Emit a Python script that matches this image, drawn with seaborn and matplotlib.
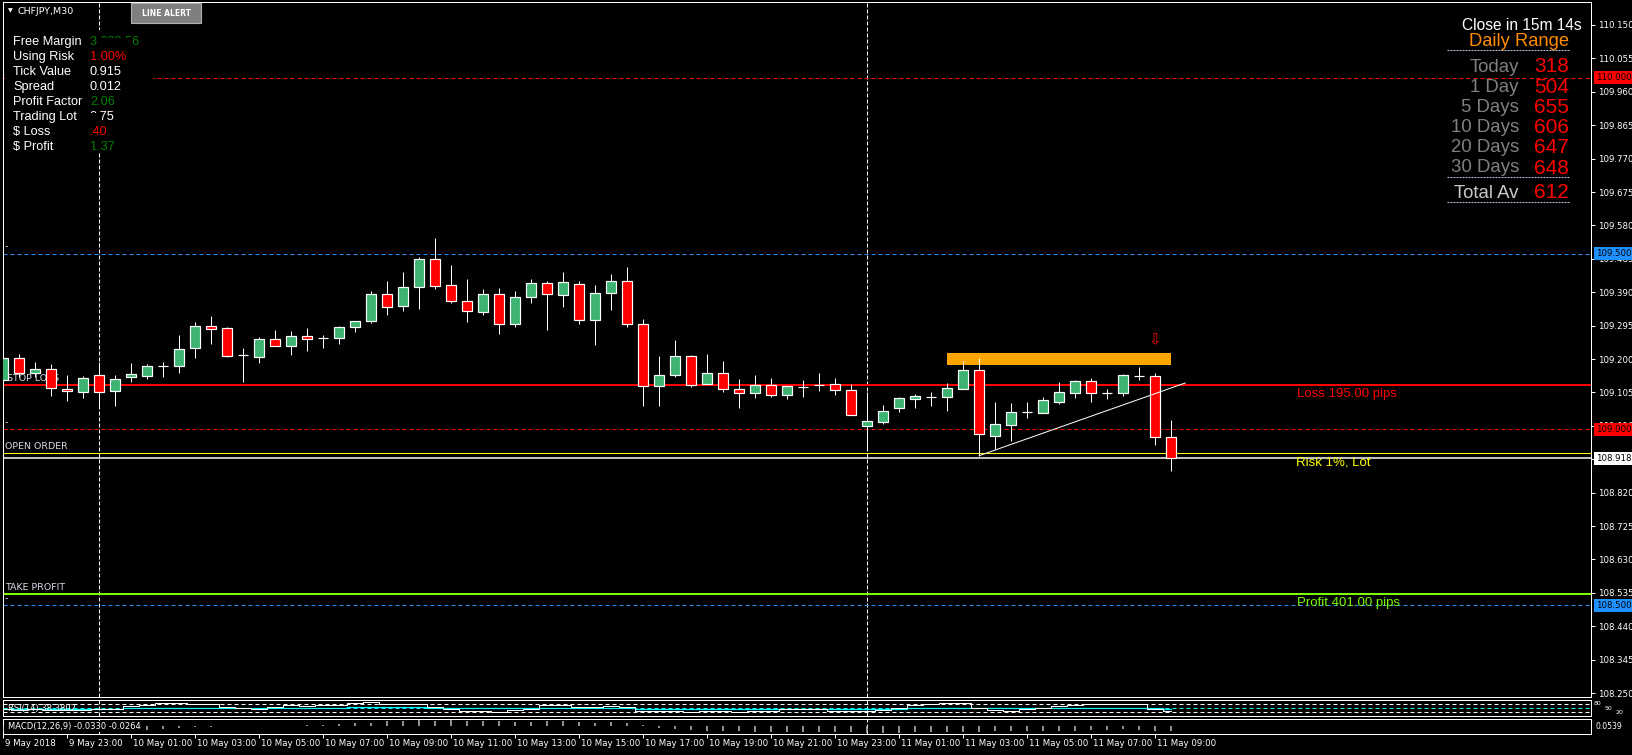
import numpy as np
import pandas as pd
import matplotlib
matplotlib.use("Agg")
import matplotlib.pyplot as plt
import seaborn as sns
from matplotlib.patches import Rectangle
from matplotlib.lines import Line2D

# dados do grafico CHFJPY M30 (barra 0 = 10 May 00:00)
first_bar = -6
opens = [109.139, 109.202, 109.161, 109.171, 109.114, 109.107, 109.154, 109.110, 109.148, 109.153,
         109.180, 109.181, 109.230, 109.293, 109.287, 109.211, 109.207, 109.256, 109.236, 109.265,
         109.259, 109.259, 109.290, 109.307, 109.384, 109.350, 109.404, 109.484, 109.410, 109.364,
         109.333, 109.384, 109.299, 109.375, 109.415, 109.381, 109.412, 109.310, 109.387, 109.421,
         109.299, 109.122, 109.154, 109.208, 109.128, 109.159, 109.114, 109.102, 109.125, 109.097,
         109.121, 109.127, 109.128, 109.111, 109.009, 109.022, 109.060, 109.087, 109.093, 109.093,
         109.116, 109.168, 108.982, 109.013, 109.050, 109.047, 109.079, 109.104, 109.137, 109.104,
         109.104, 109.153, 109.151, 108.977]
highs = [109.207, 109.214, 109.191, 109.186, 109.155, 109.152, 109.191, 109.155, 109.189, 109.186,
         109.192, 109.268, 109.305, 109.321, 109.291, 109.231, 109.262, 109.283, 109.280, 109.288,
         109.268, 109.294, 109.307, 109.393, 109.422, 109.447, 109.489, 109.544, 109.467, 109.428,
         109.399, 109.402, 109.393, 109.428, 109.422, 109.447, 109.422, 109.411, 109.442, 109.462,
         109.314, 109.209, 109.254, 109.211, 109.214, 109.194, 109.143, 109.155, 109.146, 109.122,
         109.140, 109.160, 109.146, 109.129, 109.105, 109.069, 109.093, 109.100, 109.105, 109.131,
         109.194, 109.203, 109.078, 109.075, 109.078, 109.092, 109.135, 109.140, 109.145, 109.114,
         109.157, 109.177, 109.159, 109.027]
lows = [109.131, 109.150, 109.150, 109.096, 109.082, 109.090, 109.064, 109.067, 109.135, 109.144,
        109.150, 109.161, 109.204, 109.244, 109.207, 109.136, 109.190, 109.236, 109.212, 109.224,
        109.232, 109.244, 109.278, 109.303, 109.326, 109.338, 109.343, 109.400, 109.360, 109.306,
        109.326, 109.272, 109.292, 109.360, 109.283, 109.349, 109.301, 109.241, 109.340, 109.292,
        109.067, 109.067, 109.148, 109.120, 109.128, 109.107, 109.062, 109.090, 109.093, 109.087,
        109.093, 109.110, 109.099, 109.040, 108.945, 109.015, 109.050, 109.062, 109.067, 109.053,
        109.116, 108.925, 108.943, 108.967, 109.033, 109.046, 109.072, 109.090, 109.079, 109.087,
        109.096, 109.141, 108.956, 108.882]
closes = [109.202, 109.161, 109.171, 109.117, 109.108, 109.145, 109.107, 109.142, 109.156, 109.179,
          109.180, 109.228, 109.293, 109.284, 109.210, 109.211, 109.256, 109.236, 109.265, 109.256,
          109.259, 109.290, 109.307, 109.384, 109.347, 109.404, 109.484, 109.407, 109.364, 109.336,
          109.384, 109.299, 109.375, 109.415, 109.384, 109.418, 109.310, 109.387, 109.421, 109.301,
          109.122, 109.154, 109.208, 109.125, 109.159, 109.114, 109.102, 109.125, 109.097, 109.122,
          109.121, 109.127, 109.111, 109.040, 109.023, 109.051, 109.088, 109.094, 109.093, 109.117,
          109.168, 108.986, 109.014, 109.048, 109.050, 109.083, 109.105, 109.137, 109.102, 109.104,
          109.154, 109.153, 108.977, 108.918]

rsi_line = [45, 42, 44, 40, 41, 43, 44, 48, 60, 66, 72, 73, 70, 68, 57, 52, 46, 56, 62, 60,
            62, 66, 73, 76, 68, 68, 70, 56, 48, 36, 35, 32, 40, 45, 63, 66, 56, 56, 58, 55,
            35, 35, 38, 34, 36, 35, 33, 36, 36, 44, 46, 48, 36, 35, 37, 42, 50, 62, 70, 72,
            74, 52, 40, 38, 46, 52, 60, 66, 68, 67, 70, 70, 47, 38]
rsi_signal = [48, 48, 48, 48, 48, 48, 48, 48, 51, 51, 51, 51, 51, 51, 49, 49, 49, 52, 52, 52,
              52, 52, 53, 54, 55, 56, 56, 52, 50, 50, 50, 50, 51, 51, 51, 51, 51, 51, 52, 52,
              47, 46, 46, 46, 46, 46, 46, 46, 46, 46, 46, 46, 47, 47, 47, 47, 47, 50, 50, 50,
              50, 50, 49, 49, 49, 49, 49, 50, 50, 50, 50, 50, 49, 47]
macd_hist = [-0.030, -0.031, -0.032, -0.032, -0.031, -0.030, -0.029, -0.028, -0.027, -0.025,
             -0.022, -0.012, -0.008, -0.003, -0.002, 0.000, 0.001, 0.002, 0.003, 0.004,
             0.005, 0.013, 0.018, 0.022, 0.031, 0.031, 0.040, 0.036, 0.040, 0.031,
             0.031, 0.031, 0.027, 0.027, 0.031, 0.031, 0.027, 0.022, 0.027, 0.018,
             0.007, -0.013, -0.022, -0.027, -0.031, -0.033, -0.033, -0.040, -0.040, -0.040,
             -0.040, -0.040, -0.040, -0.040, -0.049, -0.049, -0.049, -0.040, -0.040, -0.040,
             -0.040, -0.040, -0.036, -0.036, -0.036, -0.031, -0.031, -0.031, -0.027, -0.027,
             -0.022, -0.027, -0.031, -0.033]

price_ticks = [108.250, 108.345, 108.440, 108.535, 108.630, 108.725, 108.820, 108.915, 109.010, 109.105,
               109.200, 109.295, 109.390, 109.485, 109.580, 109.675, 109.770, 109.865, 109.960, 110.055, 110.150]
date_bars = [-6, -2, 2, 6, 10, 14, 18, 22, 26, 30, 34, 38, 42, 46, 50, 54, 58, 62, 66]
date_labels = ['9 May 2018', '9 May 23:00', '10 May 01:00', '10 May 03:00', '10 May 05:00', '10 May 07:00',
               '10 May 09:00', '10 May 11:00', '10 May 13:00', '10 May 15:00', '10 May 17:00', '10 May 19:00',
               '10 May 21:00', '10 May 23:00', '11 May 01:00', '11 May 03:00', '11 May 05:00', '11 May 07:00',
               '11 May 09:00']
separator_bars = [0, 48]

stop_loss = 109.127
take_profit = 108.532
open_order = 108.918
risk_line = 108.932
red_levels = [110.000, 109.000]
blue_levels = [109.500, 108.500]
box_start, box_end, box_low, box_high = 53, 67, 109.183, 109.217
trend_x = [55, 67.9]
trend_y = [108.925, 109.132]
arrow_bar, arrow_price = 66, 109.254
rsi_levels = [70, 50, 30]
rsi_level_labels = ['80', '50', '20']

info_labels = ['Free Margin', 'Using Risk', 'Tick Value', 'Spread', 'Profit Factor', 'Trading Lot', '$ Loss', '$ Profit']
info_values = ['3 333.56', '1.00%', '0.915', '0.012', '2.06', '0.75', '.40', '1.37']
info_colors = ['#008000', '#FF0000', 'white', 'white', '#008000', 'white', '#FF0000', '#008000']

range_labels = ['Today', '1 Day', '5 Days', '10 Days', '20 Days', '30 Days']
range_values = ['318', '504', '655', '606', '647', '648']
total_label, total_value = 'Total Av', '612'

df = pd.DataFrame({'open': opens, 'high': highs, 'low': lows, 'close': closes,
                   'rsi': rsi_line, 'sig': rsi_signal, 'macd': macd_hist})
df['bar'] = np.arange(len(df)) + first_bar

sns.set_style("dark", {'axes.facecolor': 'black', 'figure.facecolor': 'black'})
plt.rcParams['font.family'] = ['DejaVu Sans']

W, H = 1633, 755
fig = plt.figure(figsize=(W / 100, H / 100), dpi=100)
fig.patch.set_facecolor('black')


def rect(x0, y0, x1, y1):
    return [x0 / W, 1 - y1 / H, (x1 - x0) / W, (y1 - y0) / H]


def px_pt(p):
    return p * 0.72


ax = fig.add_axes(rect(3, 2, 1591, 697))
ax_rsi = fig.add_axes(rect(3, 700, 1591, 716))
ax_macd = fig.add_axes(rect(3, 719, 1591, 734))

for a in (ax, ax_rsi, ax_macd):
    a.set_facecolor('black')
    a.set_xlim(-6, 93.25)
    for s in a.spines.values():
        s.set_color('white')
        s.set_linewidth(px_pt(1))
    a.grid(False)
    a.tick_params(axis='both', which='both', length=0, labelleft=False, labelbottom=False)
    for b in separator_bars:
        a.axvline(b, color='white', lw=px_pt(1), ls=(0, (4, 2)), zorder=1)

# painel principal
ax.set_ylim(108.2388, 110.2154)
ax.yaxis.tick_right()
ax.set_yticks(price_ticks)
ax.set_yticklabels([f'{p:.3f}' for p in price_ticks])
ax.tick_params(axis='y', right=True, length=px_pt(4), width=px_pt(1), color='white',
               labelright=True, labelcolor='white', labelsize=6.2, pad=2)

for lv in red_levels:
    ax.axhline(lv, color='#FF0000', lw=px_pt(1), ls=(0, (4, 3)), zorder=1)
for lv in blue_levels:
    ax.axhline(lv, color='#1E90FF', lw=px_pt(1), ls=(0, (4, 3)), zorder=1)

ax.add_patch(Rectangle((box_start, box_low), box_end - box_start, box_high - box_low,
                       facecolor='#FFA500', edgecolor='none', zorder=1))
ax.axhline(stop_loss, color='#FF0000', lw=px_pt(2), zorder=2)
ax.axhline(take_profit, color='#7CFC00', lw=px_pt(2), zorder=2)
ax.axhline(risk_line, color='#FFFF00', lw=px_pt(1), zorder=2)
ax.axhline(open_order, color='white', lw=px_pt(1.5), zorder=2)
ax.plot(trend_x, trend_y, color='white', lw=px_pt(1), zorder=5)

lbl_kw = dict(fontsize=6.8, color='#D8D8E8', ha='left', va='bottom', zorder=2)
ax.annotate('STOP LOSS', xy=(-6, stop_loss), xytext=(4, 2), textcoords='offset pixels', **lbl_kw)
ax.annotate('OPEN ORDER', xy=(-6, risk_line), xytext=(2, 2), textcoords='offset pixels', **lbl_kw)
ax.annotate('TAKE PROFIT', xy=(-6, take_profit), xytext=(2, 2), textcoords='offset pixels', **lbl_kw)
for lv in red_levels + blue_levels:
    ax.annotate('-', xy=(-6, lv), xytext=(2, 2), textcoords='offset pixels', **lbl_kw)

note_kw = dict(textcoords='offset pixels', fontsize=9.5, ha='left', va='center', family='Liberation Sans')
ax.annotate('Loss 195.00 pips', xy=(74.9, stop_loss), xytext=(0, -9), color='#FF0000', **note_kw)
ax.annotate('Risk 1%, Lot', xy=(74.8, risk_line), xytext=(0, -9), color='#FFFF00', **note_kw)
ax.annotate('Profit 401.00 pips', xy=(74.9, take_profit), xytext=(0, -9), color='#7CFC00', **note_kw)
ax.text(arrow_bar, arrow_price, '\u21e9', color='#FF0000', fontsize=11, ha='center', va='center', zorder=6)

# velas
green, red = '#3CB371', '#FF0000'
body_low = df[['open', 'close']].min(axis=1)
body_h = (df['close'] - df['open']).abs()
colors = np.where(df['close'] > df['open'], green, red)
ax.vlines(df['bar'], df['low'], df['high'], color='white', lw=px_pt(1), zorder=3)
ax.bar(df['bar'], body_h, bottom=body_low, width=0.66, color=colors,
       edgecolor='white', linewidth=px_pt(1.2), zorder=4)

# etiquetas de preco no eixo
tag_kw = dict(xycoords=('axes fraction', 'data'), textcoords='offset pixels', fontsize=6.2,
              color='black', ha='left', va='center', zorder=10, annotation_clip=False)
for lv, fc, txt in [(110.000, '#FF0000', '110.000'), (109.500, '#1E90FF', '109.500'),
                    (109.000, '#FF0000', '109.000'), (open_order, 'white', '108.918'),
                    (108.500, '#1E90FF', '108.500')]:
    ax.annotate(txt, xy=(1, lv), xytext=(5, 0),
                bbox=dict(boxstyle='square,pad=0.22', fc=fc, ec='none'), **tag_kw)

# RSI
ax_rsi.set_ylim(14, 87)
for lv, c in zip(rsi_levels, ['white', 'cyan', 'white']):
    ax_rsi.axhline(lv, color=c, lw=px_pt(1), ls=(0, (4, 3)), zorder=1)
sns.lineplot(data=df, x='bar', y='sig', ax=ax_rsi, color='cyan', lw=px_pt(1.2),
             drawstyle='steps-mid', zorder=3)
sns.lineplot(data=df, x='bar', y='rsi', ax=ax_rsi, color='white', lw=px_pt(1),
             drawstyle='steps-mid', zorder=4)
ax_rsi.set_xlabel('')
ax_rsi.set_ylabel('')
ax_rsi.set_xlim(-6, 93.25)
ax_rsi.text(0.003, 0.5, 'RSI(14) 38.3802', transform=ax_rsi.transAxes, fontsize=6, color='white',
            va='center', ha='left', zorder=6)
# os tres niveis ficam muito proximos: deslocados na horizontal para nao se sobreporem
for k, (lv, t) in enumerate(zip(rsi_levels, rsi_level_labels)):
    ax_rsi.annotate(t, xy=(1, lv), xycoords=('axes fraction', 'data'), xytext=(3 + 11 * k, 0),
                    textcoords='offset pixels', fontsize=4.5, color='white', va='center',
                    annotation_clip=False)

# MACD
ax_macd.set_ylim(-0.053, 0.047)
ax_macd.vlines(df['bar'], 0, df['macd'], color='#C0C0C0', lw=px_pt(1.5), zorder=3)
ax_macd.text(0.003, 0.5, 'MACD(12,26,9) -0.0330 -0.0264', transform=ax_macd.transAxes, fontsize=6,
             color='white', va='center', ha='left', zorder=6,
             bbox=dict(boxstyle='square,pad=0.1', fc='black', ec='none'))
ax_macd.annotate('0.0539', xy=(1, 0.5), xycoords='axes fraction', xytext=(4, 0),
                 textcoords='offset pixels', fontsize=5.5, color='white', va='center',
                 annotation_clip=False)
ax_macd.set_xticks(date_bars)
ax_macd.tick_params(axis='x', bottom=True, length=px_pt(4), width=px_pt(1), color='white',
                    direction='out', labelbottom=False)
for b, t in zip(date_bars, date_labels):
    ax_macd.annotate(t, xy=(b, 0), xycoords=('data', 'axes fraction'), xytext=(2, -9),
                     textcoords='offset pixels', fontsize=6.2, color='white', ha='left', va='center',
                     annotation_clip=False)

# painel de informacoes (topo esquerdo)
fig.patches.append(Rectangle((5 / W, 1 - 153 / H), 148 / W, 123 / H, transform=fig.transFigure,
                             facecolor='black', edgecolor='none', zorder=5))
for i, (lab, val, col) in enumerate(zip(info_labels, info_values, info_colors)):
    y = 1 - (42 + 15 * i) / H
    fig.text(13 / W, y, lab, fontsize=9.2, color='white', va='center', family='Liberation Sans', zorder=6)
    fig.text(90 / W, y, val, fontsize=9.2, color=col, va='center', family='Liberation Sans', zorder=6)
# valores parcialmente apagados no original
for x0, x1, yc in [(97, 133, 42), (88, 101, 117), (80, 93, 147)]:
    fig.patches.append(Rectangle((x0 / W, 1 - (yc + 6) / H), (x1 - x0) / W, 10 / H,
                                 transform=fig.transFigure, facecolor='black', edgecolor='none', zorder=7))

fig.text(8 / W, 1 - 11 / H, '\u25bc', fontsize=4.5, color='white', va='center')
fig.text(18 / W, 1 - 11 / H, 'CHFJPY,M30', fontsize=6.8, color='white', va='center')
fig.patches.append(Rectangle((131 / W, 1 - 23 / H), 70 / W, 20 / H, transform=fig.transFigure,
                             facecolor='#7F7F7F', edgecolor='#B0B0B0', lw=0.8, zorder=5))
fig.text(166 / W, 1 - 13 / H, 'LINE ALERT', fontsize=5.5, color='white', weight='bold',
         ha='center', va='center', zorder=6)

# painel Daily Range (topo direito)
fig.text(1582 / W, 1 - 26 / H, 'Close in 15m 14s', fontsize=11.2, color='white', ha='right',
         va='center', family='Liberation Sans')
fig.text(1569 / W, 1 - 42 / H, 'Daily Range', fontsize=13.2, color='#FF8C00', ha='right',
         va='center', family='Liberation Sans')
for i, (lab, val) in enumerate(zip(range_labels, range_values)):
    y = 1 - (67 + 20.2 * i) / H
    fig.text(1519 / W, y, lab, fontsize=13.4, color='#808080', ha='right', va='center', family='Liberation Sans')
    fig.text(1569 / W, y, val, fontsize=15, color='#FF0000', ha='right', va='center', family='Liberation Sans')
fig.text(1519 / W, 1 - 193 / H, total_label, fontsize=13.4, color='#C8C8C8', ha='right', va='center',
         family='Liberation Sans')
fig.text(1569 / W, 1 - 193 / H, total_value, fontsize=15, color='#FF0000', ha='right', va='center',
         family='Liberation Sans')
for yy in (50, 177, 202):
    fig.lines.append(Line2D([1447 / W, 1569 / W], [1 - yy / H, 1 - yy / H], transform=fig.transFigure,
                            color='#B8C0D8', lw=px_pt(1), ls=(0, (2, 1))))

fig.savefig('out.png', dpi=100, facecolor='black')
